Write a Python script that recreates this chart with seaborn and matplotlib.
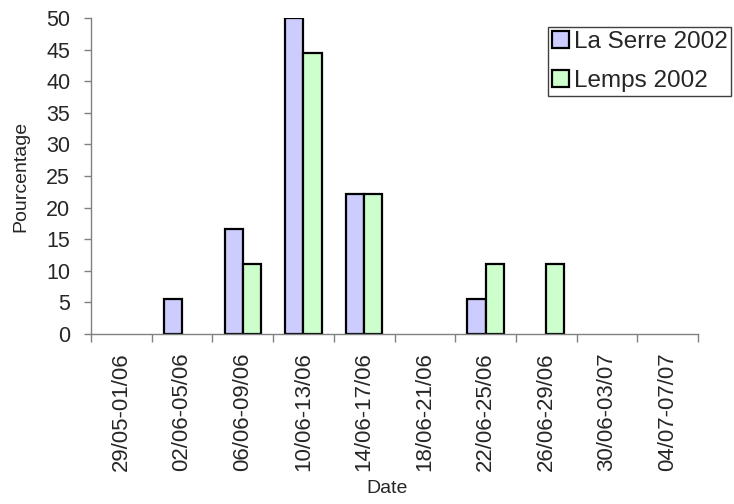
import pandas as pd
import matplotlib
matplotlib.use("Agg")
import matplotlib.pyplot as plt
from matplotlib.patches import Patch
from matplotlib.ticker import FixedLocator
import seaborn as sns

# ---------------- data ----------------
PERIODS = ["29/05-01/06", "02/06-05/06", "06/06-09/06", "10/06-13/06", "14/06-17/06",
           "18/06-21/06", "22/06-25/06", "26/06-29/06", "30/06-03/07", "04/07-07/07"]
LA_SERRE = [0, 5.56, 16.67, 50.0, 22.22, 0, 5.56, 0, 0, 0]
LEMPS = [0, 0, 11.11, 44.44, 22.22, 0, 11.11, 11.11, 0, 0]
SERIES = ["La Serre 2002", "Lemps 2002"]
COLORS = {"La Serre 2002": "#CCCCFF", "Lemps 2002": "#CCFFCC"}

df = pd.DataFrame({"Date": PERIODS * 2,
                   "Pourcentage": LA_SERRE + LEMPS,
                   "serie": [SERIES[0]] * len(PERIODS) + [SERIES[1]] * len(PERIODS)})

# ---------------- style ----------------
sns.set_theme(style="white")
plt.rcParams["font.family"] = ["Liberation Sans", "DejaVu Sans"]
AXIS_GREY = "#808080"
BAR_LW = 1.6

fig = plt.figure(figsize=(7.34, 5.04), dpi=100)
ax = fig.add_axes([91 / 734, 1 - 334 / 504, (698 - 91) / 734, (334 - 18) / 504])

sns.barplot(data=df, x="Date", y="Pourcentage", hue="serie", hue_order=SERIES,
            order=PERIODS, palette=COLORS, width=0.6, edgecolor="black",
            linewidth=BAR_LW, saturation=1, ax=ax, legend=False)

# empty bars: no outline on the zero line
for bar in ax.patches:
    if bar.get_height() == 0:
        bar.set_visible(False)

ax.set_xlim(-0.5, len(PERIODS) - 0.5)
ax.set_ylim(0, 50)
ax.set_yticks(range(0, 51, 5))
ax.tick_params(axis="y", labelsize=15.5, length=5, width=1, color=AXIS_GREY,
               direction="out", pad=10, left=True)
ax.tick_params(axis="x", which="major", labelsize=16, length=0, pad=13, rotation=90)
ax.xaxis.set_minor_locator(FixedLocator([i - 0.5 for i in range(len(PERIODS) + 1)]))
ax.tick_params(axis="x", which="minor", length=6, width=1, color=AXIS_GREY,
               direction="out", bottom=True)

for side in ["top", "right"]:
    ax.spines[side].set_visible(False)
for side in ["left", "bottom"]:
    ax.spines[side].set_color(AXIS_GREY)
    ax.spines[side].set_linewidth(1)

ax.set_xlabel("Date", fontsize=14, va="center")
ax.set_ylabel("Pourcentage", fontsize=14, va="center")
ax.xaxis.set_label_coords(0.487, -0.49)
ax.yaxis.set_label_coords(-0.115, 0.5)

handles = [Patch(facecolor=COLORS[s], edgecolor="black", linewidth=BAR_LW, label=s)
           for s in SERIES]
leg = fig.legend(handles=handles, loc="upper left",
                 bbox_to_anchor=(548 / 734, 1 - 27 / 504), fontsize=17.5,
                 frameon=True, fancybox=False, framealpha=1, edgecolor="#404040",
                 handlelength=0.7, handleheight=0.7, handletextpad=0.2,
                 labelspacing=0.72, borderpad=0.16, borderaxespad=0)
leg.get_frame().set_linewidth(1)

fig.savefig("out.png", dpi=100)
plt.close(fig)
